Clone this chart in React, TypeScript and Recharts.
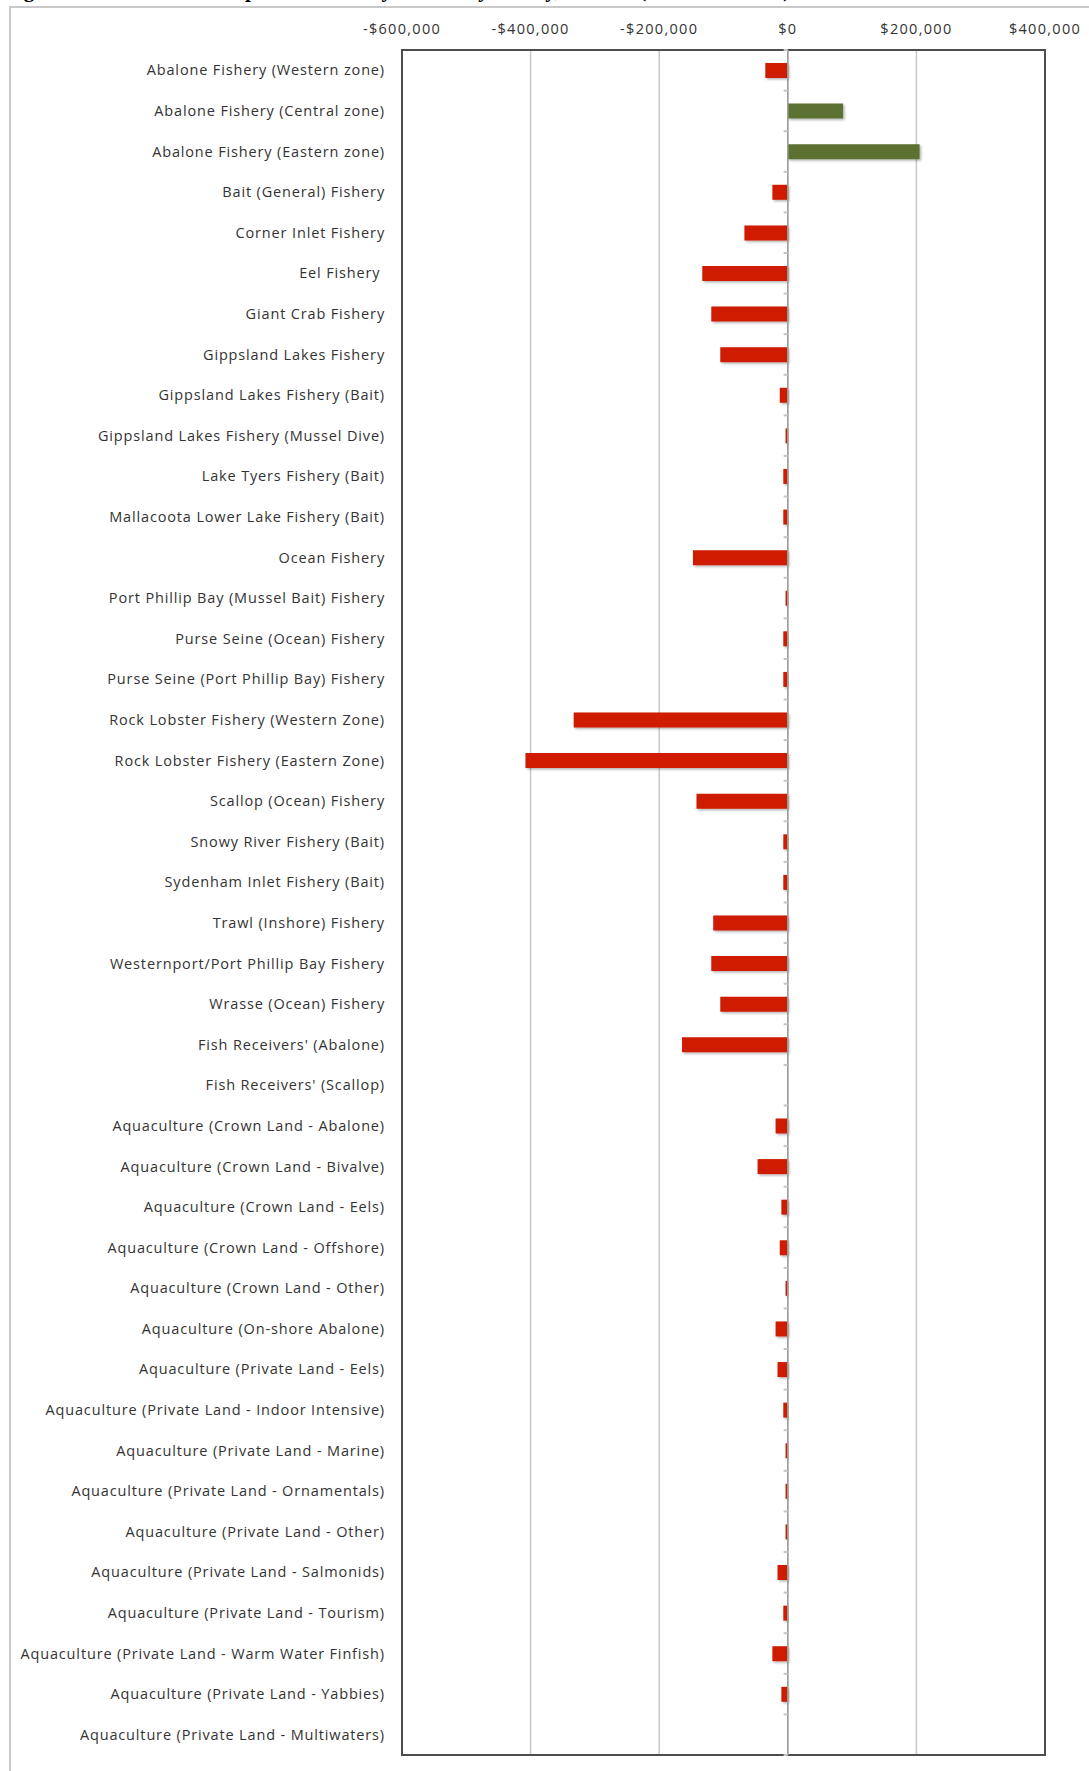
import React from "react";
import {
  Bar,
  CartesianGrid,
  Cell,
  ComposedChart,
  ReferenceArea,
  ReferenceLine,
  XAxis,
  YAxis,
} from "recharts";

const fisheries = [
  "Abalone Fishery (Western zone)",
  "Abalone Fishery (Central zone)",
  "Abalone Fishery (Eastern zone)",
  "Bait (General) Fishery",
  "Corner Inlet Fishery",
  "Eel Fishery\u00A0",
  "Giant Crab Fishery",
  "Gippsland Lakes Fishery",
  "Gippsland Lakes Fishery (Bait)",
  "Gippsland Lakes Fishery (Mussel Dive)",
  "Lake Tyers Fishery (Bait)",
  "Mallacoota Lower Lake Fishery (Bait)",
  "Ocean Fishery",
  "Port Phillip Bay (Mussel Bait) Fishery",
  "Purse Seine (Ocean) Fishery",
  "Purse Seine (Port Phillip Bay) Fishery",
  "Rock Lobster Fishery (Western Zone)",
  "Rock Lobster Fishery (Eastern Zone)",
  "Scallop (Ocean) Fishery",
  "Snowy River Fishery (Bait)",
  "Sydenham Inlet Fishery (Bait)",
  "Trawl (Inshore) Fishery",
  "Westernport/Port Phillip Bay Fishery",
  "Wrasse (Ocean) Fishery",
  "Fish Receivers' (Abalone)",
  "Fish Receivers' (Scallop)",
  "Aquaculture (Crown Land - Abalone)",
  "Aquaculture (Crown Land - Bivalve)",
  "Aquaculture (Crown Land - Eels)",
  "Aquaculture (Crown Land - Offshore)",
  "Aquaculture (Crown Land - Other)",
  "Aquaculture (On-shore Abalone)",
  "Aquaculture (Private Land - Eels)",
  "Aquaculture (Private Land - Indoor Intensive)",
  "Aquaculture (Private Land - Marine)",
  "Aquaculture (Private Land - Ornamentals)",
  "Aquaculture (Private Land - Other)",
  "Aquaculture (Private Land - Salmonids)",
  "Aquaculture (Private Land - Tourism)",
  "Aquaculture (Private Land - Warm Water Finfish)",
  "Aquaculture (Private Land - Yabbies)",
  "Aquaculture (Private Land - Multiwaters)",
];

const netImpact = [
  -35000, 86000, 205000, -24000, -67500, -133000, -119000, -105000, -12500,
  -3500, -7000, -7000, -147500, -3500, -7000, -7000, -333000, -408000,
  -142000, -7000, -7000, -116000, -119000, -105000, -164500, 0, -19000,
  -47000, -10000, -12500, -3500, -19000, -16000, -7000, -3500, -3500, -3500,
  -16000, -7000, -24000, -10000, 0,
];

const xTicks = [-600000, -400000, -200000, 0, 200000, 400000];

const chartData = fisheries.map((name, i) => ({ name, value: netImpact[i] }));

const money = (v: number) =>
  v === 0 ? "$0" : `${v < 0 ? "-" : ""}$${Math.abs(v).toLocaleString("en-US")}`;

const TICK_LEN = 6500;

export default function App() {
  return (
    <div
      style={{
        position: "absolute",
        left: 0,
        top: 0,
        width: 1089,
        height: 1771,
        overflow: "hidden",
        background: "#ffffff",
      }}
    >
      {/* title is cropped in the source image, only descenders peek through */}
      <div
        style={{
          position: "absolute",
          left: 5,
          top: -20.5,
          font: "bold 21px 'Liberation Serif', serif",
          lineHeight: "21px",
          whiteSpace: "nowrap",
          color: "#000",
        }}
      >
        Figure 6: Estimated net impact on industry income by fishery, 2010-11 (2009-10 dollars)
      </div>
      <div
        style={{
          position: "absolute",
          left: 9,
          top: 6,
          width: 1100,
          height: 1800,
          borderLeft: "2px solid #c9c9c9",
          borderTop: "2px solid #c9c9c9",
          background: "#fff",
        }}
      />
      <div style={{ position: "absolute", left: 0, top: 0 }}>
        <ComposedChart
          width={1089}
          height={1771}
          layout="vertical"
          data={chartData}
          margin={{ top: 20, right: 44, bottom: 16, left: 0 }}
        >
          <defs>
            <filter id="barShadow" x="-10%" y="-30%" width="130%" height="190%">
              <feDropShadow dx="1.5" dy="1.5" stdDeviation="1" floodColor="#000" floodOpacity="0.3" />
            </filter>
          </defs>
          <CartesianGrid horizontal={false} stroke="#c8c8c8" strokeWidth={1.5} />
          <XAxis
            type="number"
            orientation="top"
            domain={[-600000, 400000]}
            ticks={xTicks}
            tickFormatter={money}
            height={30}
            axisLine={false}
            tickLine={false}
            tickSize={0}
            tickMargin={16}
            tick={{
              fill: "#333",
              fontSize: 14.5,
              letterSpacing: 1.3,
              fontFamily: "'Open Sans', sans-serif",
            }}
          />
          <YAxis
            type="category"
            dataKey="name"
            width={402}
            interval={0}
            axisLine={false}
            tickLine={false}
            tickSize={0}
            tickMargin={17}
            tick={{
              fill: "#333",
              fontSize: 14.5,
              letterSpacing: 0.85,
              fontFamily: "'Open Sans', sans-serif",
            }}
          />
          <ReferenceLine x={0} stroke="#9c9c9c" strokeWidth={1.5} />
          {fisheries.map((f) => (
            <ReferenceLine
              key={`t-${f}`}
              segment={[
                { x: -TICK_LEN, y: f },
                { x: 0, y: f },
              ]}
              position="start"
              stroke="#c4c4c4"
              strokeWidth={2}
            />
          ))}
          <ReferenceLine
            segment={[
              { x: -TICK_LEN, y: fisheries[fisheries.length - 1] },
              { x: 0, y: fisheries[fisheries.length - 1] },
            ]}
            position="end"
            stroke="#c4c4c4"
            strokeWidth={2}
          />
          <Bar dataKey="value" barSize={15} isAnimationActive={false}>
            {chartData.map((d) => (
              <Cell
                key={d.name}
                fill={d.value >= 0 ? "#5d7133" : "#cf1d00"}
                filter="url(#barShadow)"
              />
            ))}
          </Bar>
          <ReferenceArea
            x1={-600000}
            x2={400000}
            fill="none"
            fillOpacity={0}
            stroke="#4d4d4d"
            strokeWidth={2}
          />
        </ComposedChart>
      </div>
    </div>
  );
}
